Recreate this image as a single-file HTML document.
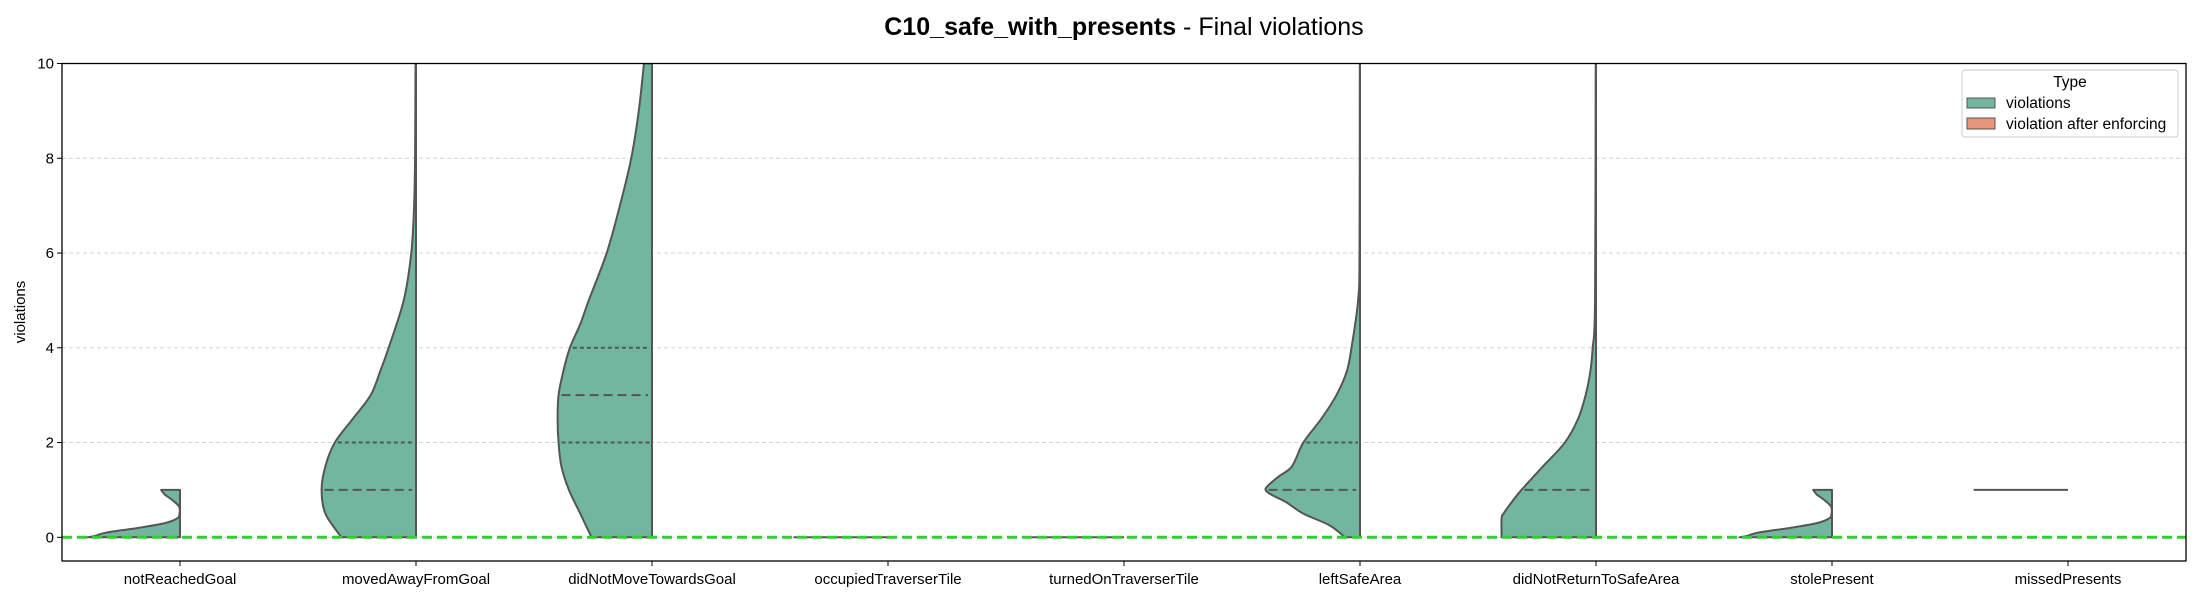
<!DOCTYPE html>
<html><head><meta charset="utf-8"><style>
body{margin:0;background:#fff;}
svg{display:block;font-family:"Liberation Sans","DejaVu Sans",sans-serif;}
</style></head><body>
<svg id="chart" width="2200" height="600" viewBox="0 0 2200 600">
<text x="1124" y="35" text-anchor="middle" font-size="25"><tspan font-weight="bold">C10_safe_with_presents</tspan> - Final violations</text>
<g id="grid"></g><g id="violins"></g><g id="axes"></g>
<text transform="translate(25,312) rotate(-90)" text-anchor="middle" font-size="15">violations</text>
<g>
<rect x="1962" y="70" width="216" height="67" rx="3" fill="#fff" stroke="#ccc" stroke-width="1"/>
<text x="2070" y="87" text-anchor="middle" font-size="15.5">Type</text>
<rect x="1967" y="98" width="28" height="10" fill="#73b6a0" stroke="#555"/>
<text x="2006" y="108" font-size="15.5">violations</text>
<rect x="1967" y="118" width="28" height="11" fill="#e8967a" stroke="#555"/>
<text x="2006" y="129" font-size="15.5">violation after enforcing</text>
</g>
</svg>
<script>
const categories = ["notReachedGoal","movedAwayFromGoal","didNotMoveTowardsGoal","occupiedTraverserTile","turnedOnTraverserTile","leftSafeArea","didNotReturnToSafeArea","stolePresent","missedPresents"];
const yTicks = [0,2,4,6,8,10];
const yNotReached = [0,0.03,0.1,0.2,0.3,0.4,0.5,0.65,0.8,0.9,1];
const wNotReached = [0.98,0.9,0.78,0.44,0.16,0.03,0.005,0.01,0.09,0.16,0.2];
const yMovedAway = [0,0.5,1,1.5,2,2.5,3,3.5,4,5,6,7,8,10];
const wMovedAway = [0.79,0.96,1.0,0.96,0.86,0.67,0.48,0.38,0.29,0.13,0.05,0.02,0.01,0.005];
const yNotToward = [0,0.5,1,1.5,2,2.5,3,3.5,4,4.5,5,6,7,8,9,10];
const wNotToward = [0.64,0.76,0.88,0.96,0.99,1.0,0.99,0.94,0.87,0.76,0.67,0.48,0.34,0.22,0.14,0.085];
const yFlat = [0,0];
const wFlat = [1,1];
const yLeftSafe = [0,0.25,0.5,0.75,0.9,1,1.1,1.3,1.5,2,2.5,3,3.5,4,5,6,10];
const wLeftSafe = [0.16,0.32,0.6,0.79,0.94,1.0,0.97,0.85,0.72,0.6,0.41,0.25,0.14,0.09,0.02,0.005,0.002];
const yNoReturn = [0,0.4,0.5,0.75,1,1.5,2,2.5,3,3.5,4,5,10];
const wNoReturn = [1.0,1.0,0.98,0.89,0.79,0.56,0.33,0.19,0.11,0.06,0.035,0.01,0.003];
const yMissed = [1,1];
const wMissed = [1,1];
const densityYs = [yNotReached,yMovedAway,yNotToward,yFlat,yFlat,yLeftSafe,yNoReturn,yNotReached,yMissed];
const densityWs = [wNotReached,wMovedAway,wNotToward,wFlat,wFlat,wLeftSafe,wNoReturn,wNotReached,wMissed];
const medians = [null,1,3,null,null,1,1,null,null];
const quartiles = [[],[2],[2,4],[],[],[2],[],[],[]];

const L=62,R=2186,T=63.5,B=561;
const Y0=-0.5,Y1=10;
function ys(v){return B-(v-Y0)/(Y1-Y0)*(B-T);}
function xs(i){return L+(i+0.5)/categories.length*(R-L);}
const HW=(R-L)/categories.length*0.4;
const NS="http://www.w3.org/2000/svg";
function mk(tag,attrs,parent){const e=document.createElementNS(NS,tag);for(const k in attrs)e.setAttribute(k,attrs[k]);parent.appendChild(e);return e;}
const grid=document.getElementById('grid'),vg=document.getElementById('violins'),ax=document.getElementById('axes');
yTicks.forEach(t=>{
  const gl=mk('line',{x1:L,x2:R,y1:ys(t),y2:ys(t),stroke:'#d3d3d3','stroke-width':1,'stroke-dasharray':'4,3'},grid);
  
  
  const tk=mk('line',{x1:L-5,x2:L,y1:ys(t),y2:ys(t),stroke:'#000','stroke-width':1},ax);
  
  
  const tl=mk('text',{x:L-8,y:ys(t)+5,'text-anchor':'end','font-size':15},ax);
  tl.textContent=t;
  
  
});
function widthAt(yArr,wArr,v){for(let k=0;k<yArr.length-1;k++){if(v>=yArr[k]&&v<=yArr[k+1]){const f=(yArr[k+1]===yArr[k])?0:(v-yArr[k])/(yArr[k+1]-yArr[k]);return wArr[k]+f*(wArr[k+1]-wArr[k]);}}return 0;}
function smooth(pts){
  let d='';
  for(let k=0;k<pts.length-1;k++){
    const p0=pts[Math.max(k-1,0)],p1=pts[k],p2=pts[k+1],p3=pts[Math.min(k+2,pts.length-1)];
    const c1=[p1[0]+(p2[0]-p0[0])/6,p1[1]+(p2[1]-p0[1])/6];
    const c2=[p2[0]-(p3[0]-p1[0])/6,p2[1]-(p3[1]-p1[1])/6];
    d+=' C'+c1[0]+','+c1[1]+' '+c2[0]+','+c2[1]+' '+p2[0]+','+p2[1];
  }
  return d;
}
mk('clipPath',{id:'pc'},vg).appendChild(document.createElementNS(NS,'rect'));
const cr=vg.querySelector('clipPath rect');cr.setAttribute('x',L);cr.setAttribute('y',T);cr.setAttribute('width',R-L);cr.setAttribute('height',B-T);
categories.forEach((c,i)=>{
  const cx=xs(i);const yA=densityYs[i],wA=densityWs[i];
  const g=mk('g',{'clip-path':'url(#pc)'},vg);
  
  
  const flat=yA[0]===yA[yA.length-1];
  if(flat){
    const ln=mk('line',{x1:cx-wA[0]*HW,x2:cx,y1:ys(yA[0]),y2:ys(yA[0]),stroke:'#555','stroke-width':2},g);
    
    
  } else {
    const pts=yA.map((v,k)=>[cx-wA[k]*HW,ys(v)]);
    let d='M'+cx+','+ys(yA[0])+' L'+pts[0][0]+','+pts[0][1]+smooth(pts);
    d+=' L'+cx+','+ys(yA[yA.length-1])+' Z';
    const p=mk('path',{d:d,fill:'#73b6a0',stroke:'#555','stroke-width':2,'stroke-linejoin':'round'},g);
    
    
    if(medians[i]!==null){
      const m=medians[i];
      const ml=mk('line',{x1:cx-widthAt(yA,wA,m)*HW+3,x2:cx-4,y1:ys(m),y2:ys(m),stroke:'#555','stroke-width':2,'stroke-dasharray':'9,5'},g);
      
      
    }
    quartiles[i].forEach(q=>{
      const ql=mk('line',{x1:cx-widthAt(yA,wA,q)*HW+3,x2:cx-2,y1:ys(q),y2:ys(q),stroke:'#555','stroke-width':2,'stroke-dasharray':'4,3'},g);
      
      
    });
  }
  const tk=mk('line',{x1:cx,x2:cx,y1:B,y2:B+5,stroke:'#000','stroke-width':1},ax);
  
  
  const tl=mk('text',{x:cx,y:B+23,'text-anchor':'middle','font-size':15},ax);
  tl.textContent=c;
  
  
});
const zl=mk('line',{x1:L,x2:R,y1:ys(0),y2:ys(0),stroke:'#32cd32','stroke-width':3,'stroke-dasharray':'10,5'},ax);


const fr=mk('rect',{x:L,y:T,width:R-L,height:B-T,fill:'none',stroke:'#000','stroke-width':1.3},ax);


</script>
</body></html>
